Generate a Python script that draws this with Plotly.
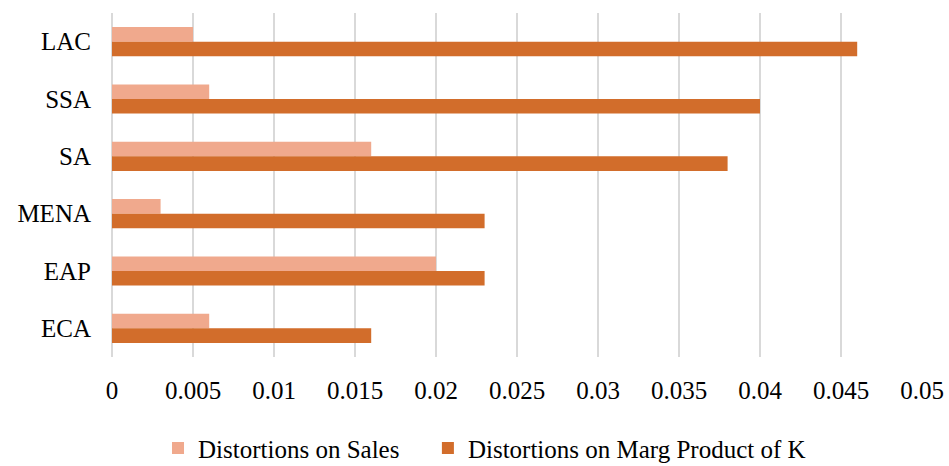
import plotly.graph_objects as go

regions = ["LAC", "SSA", "SA", "MENA", "EAP", "ECA"]
sales = [0.005, 0.006, 0.016, 0.003, 0.020, 0.006]
mpk = [0.046, 0.040, 0.038, 0.023, 0.023, 0.016]
x_ticks = [0, 0.005, 0.01, 0.015, 0.02, 0.025, 0.03, 0.035, 0.04, 0.045, 0.05]
x_tick_text = ["0", "0.005", "0.01", "0.015", "0.02", "0.025", "0.03", "0.035", "0.04", "0.045", "0.05"]

font_family = "Liberation Serif"

fig = go.Figure()
fig.add_trace(go.Bar(
    y=regions, x=sales, orientation="h", name="Distortions on Sales",
    marker=dict(color="#F0A98D", line=dict(width=0)), legend="legend",
))
fig.add_trace(go.Bar(
    y=regions, x=mpk, orientation="h", name="Distortions on Marg Product of K",
    marker=dict(color="#D26D2B", line=dict(width=0)), legend="legend2",
))

legend_style = dict(
    orientation="h", y=-0.265, yanchor="middle", xanchor="left",
    font=dict(family=font_family, size=25, color="#000000"),
    itemwidth=30, bgcolor="rgba(0,0,0,0)",
)

fig.update_layout(
    width=949, height=466,
    margin=dict(l=112, r=27, t=13, b=109, autoexpand=False),
    paper_bgcolor="white", plot_bgcolor="white",
    barmode="group", bargap=0.49, bargroupgap=0,
    font=dict(family=font_family, size=25, color="#000000"),
    showlegend=True,
    legend=dict(x=0.0568, **legend_style),
    legend2=dict(x=0.390, **legend_style),
    xaxis=dict(
        range=[0, 0.05], tickvals=x_ticks, ticktext=x_tick_text,
        showgrid=True, gridcolor="#D9D9D9", gridwidth=1.5,
        zeroline=True, zerolinecolor="#D9D9D9", zerolinewidth=1.5,
        showline=False, ticks="", ticklabelstandoff=16,
        tickfont=dict(family=font_family, size=25),
    ),
    yaxis=dict(
        autorange="reversed", showgrid=False, zeroline=False, showline=False,
        ticks="", ticklabelstandoff=20,
        tickfont=dict(family=font_family, size=25),
    ),
)

fig.write_html("out.html")
